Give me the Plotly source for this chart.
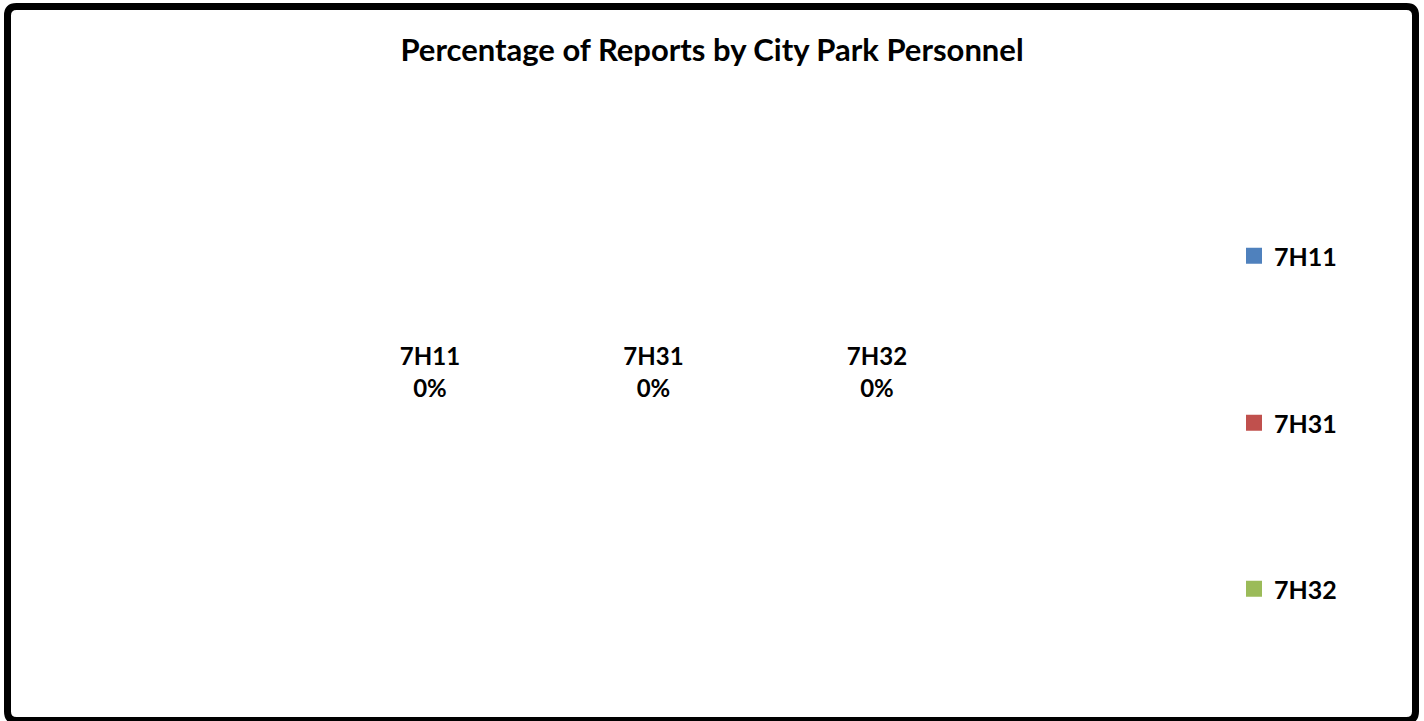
import plotly.graph_objects as go

categories = ["7H11", "7H31", "7H32"]
values = [0, 0, 0]
percent_labels = ["0%", "0%", "0%"]
colors = ["#4F81BD", "#C0504D", "#9BBB59"]
title_text = "Percentage of Reports by City Park Personnel"

FONT = "Lato"
W, H = 1424, 721

fig = go.Figure()

# data labels drawn from the data
fig.add_trace(go.Scatter(
    x=list(range(len(categories))),
    y=values,
    mode="text",
    text=[f"<b>{c}</b><br><b>{p}</b>" for c, p in zip(categories, percent_labels)],
    textposition="middle center",
    textfont=dict(family=FONT, size=24, color="black"),
    showlegend=False,
    hoverinfo="skip",
))

legend_names = ["legend", "legend2", "legend3"]
for i, (c, col) in enumerate(zip(categories, colors)):
    fig.add_trace(go.Scatter(
        x=[None], y=[None], mode="markers", name=f"<b>{c}</b>",
        marker=dict(symbol="square", size=16, color=col),
        legend=legend_names[i], showlegend=True,
    ))

legend_y = [256, 423, 589]
leg_common = dict(x=1234 / W, xanchor="left", yanchor="middle",
                  font=dict(family=FONT, size=25, color="black"),
                  bgcolor="rgba(0,0,0,0)", itemwidth=30)

fig.update_layout(
    width=W, height=H,
    margin=dict(l=0, r=0, t=0, b=0),
    paper_bgcolor="white", plot_bgcolor="white",
    title=dict(text=f"<b>{title_text}</b>", x=0.5, xanchor="center",
               y=1 - 50 / H, yanchor="middle",
               font=dict(family=FONT, size=31, color="black")),
    xaxis=dict(visible=False, range=[-430 / 223.5, -430 / 223.5 + W / 223.5]),
    yaxis=dict(visible=False, range=[-0.96, 1.04]),
    legend=dict(y=1 - legend_y[0] / H, **leg_common),
    legend2=dict(y=1 - legend_y[1] / H, **leg_common),
    legend3=dict(y=1 - legend_y[2] / H, **leg_common),
)

# chart border with rounded corners (pixel coords converted to paper)
x0, y0, x1, y1, r = 7.5, 6.5, 1415.5, 720.5, 9
path = (f"M {x0+r},{y0} L {x1-r},{y0} Q {x1},{y0} {x1},{y0+r} "
        f"L {x1},{y1-r} Q {x1},{y1} {x1-r},{y1} L {x0+r},{y1} "
        f"Q {x0},{y1} {x0},{y1-r} L {x0},{y0+r} Q {x0},{y0} {x0+r},{y0} Z")

def px_to_paper(s):
    out = []
    for tok in s.split():
        if "," in tok:
            a, b = tok.split(",")
            out.append(f"{float(a)/W:.6f},{1-float(b)/H:.6f}")
        else:
            out.append(tok)
    return " ".join(out)

fig.add_shape(type="path", xref="paper", yref="paper", path=px_to_paper(path),
              line=dict(color="black", width=7), fillcolor="rgba(0,0,0,0)")

fig.write_html("out.html", config={"displayModeBar": False},
               post_script="document.body.style.margin='0';document.body.style.overflow='hidden';")
